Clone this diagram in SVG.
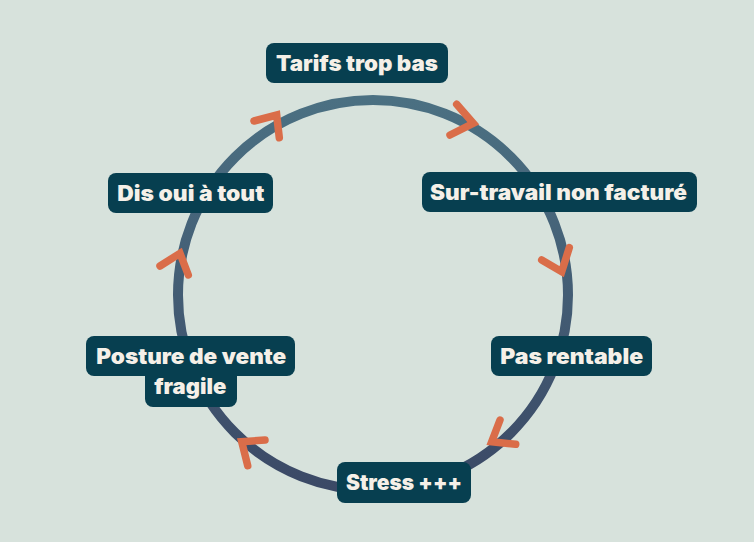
<svg xmlns="http://www.w3.org/2000/svg" width="754" height="542" viewBox="0 0 754 542">
  <defs>
    <linearGradient id="ring" gradientUnits="userSpaceOnUse" x1="0" y1="100" x2="0" y2="490">
      <stop offset="0" stop-color="#4b7082"/>
      <stop offset="1" stop-color="#3b4966"/>
    </linearGradient>
    <style>
      .box { fill: #073f50; }
      .lbl { fill: #f5f0e8; font-family: Inter, "Open Sans", "DejaVu Sans", sans-serif; font-weight: 900; font-size: 21px; text-anchor: middle; }
      .chev { fill: none; stroke: #da6d49; stroke-width: 7.5; stroke-linecap: round; stroke-linejoin: miter; }
    </style>
  </defs>
  <rect width="754" height="542" fill="#d7e2dc"/>

  <g id="connectors">
    <circle cx="373" cy="295" r="195" fill="none" stroke="url(#ring)" stroke-width="10"/>
    <path class="chev" d="M254,121 L276.7,115 L279.3,137.7"/>
    <path class="chev" d="M456.7,104.3 L473.3,123.3 L450,135"/>
    <path class="chev" d="M569.3,247.7 L561.7,271.7 L541.7,260"/>
    <path class="chev" d="M500,420 L491.7,441.7 L515.7,444.3"/>
    <path class="chev" d="M265,440 L241.7,441.7 L247.7,465.7"/>
    <path class="chev" d="M160,266 L180,253.3 L188.3,275"/>
  </g>

  <g id="node-tarifs">
    <rect class="box" x="266" y="43" width="182" height="40" rx="8"/>
    <text class="lbl" x="357" y="71" textLength="162" lengthAdjust="spacingAndGlyphs">Tarifs trop bas</text>
  </g>
  <g id="node-surtravail">
    <rect class="box" x="422" y="172" width="275" height="40" rx="8"/>
    <text class="lbl" x="558.5" y="200" textLength="257" lengthAdjust="spacingAndGlyphs">Sur-travail non facturé</text>
  </g>
  <g id="node-pasrentable">
    <rect class="box" x="491" y="336" width="161" height="40" rx="8"/>
    <text class="lbl" x="571.7" y="364" textLength="143" lengthAdjust="spacingAndGlyphs">Pas rentable</text>
  </g>
  <g id="node-stress">
    <rect class="box" x="337" y="462" width="134" height="41" rx="8"/>
    <text class="lbl" x="404" y="489.5" textLength="116" lengthAdjust="spacingAndGlyphs">Stress +++</text>
  </g>
  <g id="node-posture">
    <rect class="box" x="86" y="336" width="209" height="40" rx="8"/>
    <rect class="box" x="145" y="368" width="92" height="39" rx="8"/>
    <text class="lbl" x="191.3" y="364" textLength="190" lengthAdjust="spacingAndGlyphs">Posture de vente</text>
    <text class="lbl" x="190.3" y="393.5" textLength="72" lengthAdjust="spacingAndGlyphs">fragile</text>
  </g>
  <g id="node-disoui">
    <rect class="box" x="108" y="173" width="165" height="40" rx="8"/>
    <text class="lbl" x="190.8" y="200.7" textLength="147" lengthAdjust="spacingAndGlyphs">Dis oui à tout</text>
  </g>
</svg>
